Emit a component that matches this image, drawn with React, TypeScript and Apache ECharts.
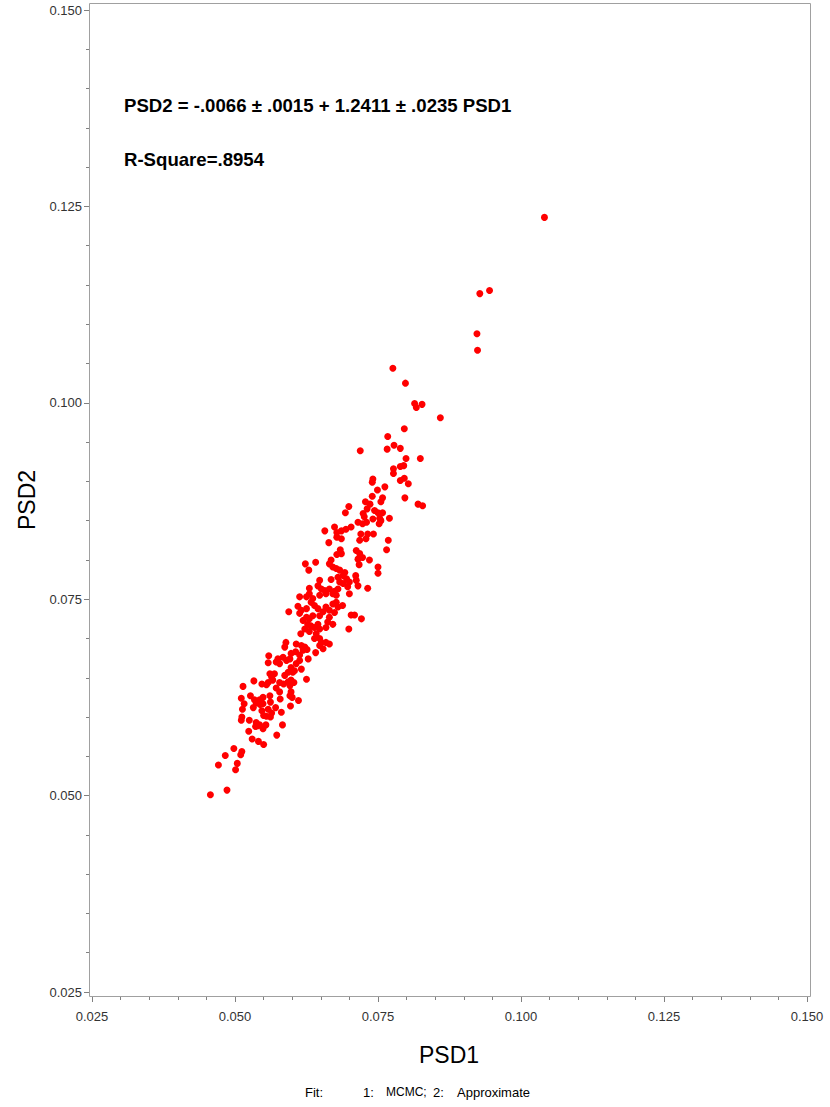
import React, { useEffect, useRef } from "react";
import * as echarts from "echarts";

const psd1: number[] = [
  0.0457, 0.0486, 0.0471, 0.0501, 0.0504, 0.0483, 0.0498, 0.0510, 0.0512, 0.0530,
  0.0541, 0.0550, 0.0524, 0.0573, 0.0511, 0.0512, 0.0513, 0.0516, 0.0511, 0.0514,
  0.0527, 0.0534, 0.0532, 0.0525, 0.0537, 0.0540, 0.0536, 0.0543, 0.0549, 0.0554,
  0.0550, 0.0547, 0.0555, 0.0562, 0.0564, 0.0558, 0.0549, 0.0544, 0.0537, 0.0543,
  0.0549, 0.0561, 0.0562, 0.0571, 0.0581, 0.0583, 0.0579, 0.0578, 0.0596, 0.0600,
  0.0598, 0.0611, 0.0597, 0.0572, 0.0555, 0.0596,
  0.0533, 0.0547, 0.0558, 0.0566, 0.0561, 0.0569, 0.0564, 0.0578, 0.0585, 0.0593,
  0.0598, 0.0603, 0.0587, 0.0593, 0.0601, 0.0625, 0.0558, 0.0572, 0.0578, 0.0575,
  0.0584, 0.0590, 0.0596, 0.0559, 0.0607, 0.0613, 0.0604, 0.0616, 0.0598, 0.0628,
  0.0587, 0.0589, 0.0607, 0.0598, 0.0606, 0.0613, 0.0619, 0.0622, 0.0626, 0.0616,
  0.0641, 0.0648, 0.0654, 0.0651, 0.0659, 0.0648, 0.0665, 0.0615, 0.0622, 0.0630,
  0.0633, 0.0627, 0.0639, 0.0642, 0.0648, 0.0645, 0.0639, 0.0659, 0.0662, 0.0671,
  0.0619, 0.0625, 0.0630, 0.0636, 0.0594, 0.0610, 0.0616, 0.0613, 0.0625, 0.0633,
  0.0639, 0.0645, 0.0648, 0.0654, 0.0659, 0.0665, 0.0665, 0.0671, 0.0677, 0.0680,
  0.0674, 0.0688, 0.0613, 0.0625, 0.0630, 0.0636, 0.0648, 0.0659, 0.0671, 0.0677,
  0.0700, 0.0703, 0.0709, 0.0721, 0.0699,
  0.0623, 0.0629, 0.0641, 0.0657, 0.0664, 0.0674, 0.0678, 0.0686, 0.0694, 0.0703,
  0.0678, 0.0686, 0.0715, 0.0723, 0.0730, 0.0726, 0.0718, 0.0720, 0.0729, 0.0732,
  0.0742, 0.0752, 0.0755, 0.0770, 0.0768, 0.0765, 0.0684, 0.0686, 0.0678, 0.0668,
  0.0665, 0.0671, 0.0677, 0.0683, 0.0712, 0.0718, 0.0715, 0.0723, 0.0735, 0.0717,
  0.0750, 0.0750, 0.0668, 0.0680, 0.0689, 0.0695, 0.0692, 0.0700, 0.0697, 0.0689,
  0.0683, 0.0711, 0.0712, 0.0715, 0.0648, 0.0645, 0.0651, 0.0657, 0.0665, 0.0674,
  0.0680, 0.0630, 0.0732,
  0.0767, 0.0719, 0.0766, 0.0778, 0.0789, 0.0799, 0.0824, 0.0777, 0.0777, 0.0789,
  0.0795, 0.0789, 0.0796, 0.0803, 0.0741, 0.0740, 0.0762, 0.0749, 0.0740, 0.0736,
  0.0728, 0.0758, 0.0755, 0.0797, 0.0820, 0.0828, 0.0699, 0.0693, 0.0724, 0.0731,
  0.0744, 0.0750, 0.0758, 0.0753, 0.0741,
  0.0776, 0.0798, 0.0814, 0.0817, 0.0827, 0.0859, 0.0796, 0.0923, 0.0924, 0.1041,
  0.0945, 0.0928,
];

const psd2: number[] = [
  0.0501, 0.0507, 0.0539, 0.0533, 0.0541, 0.0551, 0.0560, 0.0552, 0.0556, 0.0572,
  0.0569, 0.0565, 0.0582, 0.0577, 0.0596, 0.0600, 0.0610, 0.0617, 0.0624, 0.0639,
  0.0627, 0.0622, 0.0612, 0.0596, 0.0593, 0.0589, 0.0588, 0.0590, 0.0585, 0.0590,
  0.0602, 0.0608, 0.0601, 0.0600, 0.0605, 0.0610, 0.0617, 0.0616, 0.0618, 0.0622,
  0.0625, 0.0627, 0.0619, 0.0612, 0.0606, 0.0590, 0.0623, 0.0632, 0.0627, 0.0625,
  0.0632, 0.0621, 0.0614, 0.0637, 0.0641, 0.0640,
  0.0646, 0.0642, 0.0644, 0.0647, 0.0655, 0.0655, 0.0651, 0.0644, 0.0642, 0.0645,
  0.0647, 0.0644, 0.0653, 0.0657, 0.0657, 0.0648, 0.0669, 0.0670, 0.0668, 0.0674,
  0.0676, 0.0672, 0.0674, 0.0678, 0.0668, 0.0672, 0.0659, 0.0661, 0.0663, 0.0674,
  0.0689, 0.0695, 0.0693, 0.0681, 0.0683, 0.0679, 0.0685, 0.0689, 0.0686, 0.0691,
  0.0682, 0.0691, 0.0687, 0.0695, 0.0695, 0.0700, 0.0693, 0.0706, 0.0712, 0.0709,
  0.0716, 0.0718, 0.0700, 0.0706, 0.0712, 0.0718, 0.0714, 0.0714, 0.0721, 0.0718,
  0.0723, 0.0727, 0.0725, 0.0729, 0.0734, 0.0741, 0.0736, 0.0732, 0.0738, 0.0746,
  0.0742, 0.0738, 0.0729, 0.0734, 0.0740, 0.0736, 0.0727, 0.0744, 0.0746, 0.0740,
  0.0733, 0.0742, 0.0753, 0.0753, 0.0757, 0.0751, 0.0755, 0.0757, 0.0757, 0.0755,
  0.0757, 0.0730, 0.0730, 0.0725, 0.0712,
  0.0795, 0.0787, 0.0797, 0.0837, 0.0822, 0.0842, 0.0835, 0.0837, 0.0839, 0.0842,
  0.0829, 0.0827, 0.0848, 0.0846, 0.0848, 0.0855, 0.0825, 0.0833, 0.0827, 0.0833,
  0.0833, 0.0846, 0.0850, 0.0853, 0.0825, 0.0813, 0.0813, 0.0808, 0.0807, 0.0800,
  0.0795, 0.0791, 0.0789, 0.0787, 0.0812, 0.0808, 0.0801, 0.0803, 0.0800, 0.0794,
  0.0791, 0.0783, 0.0775, 0.0778, 0.0780, 0.0776, 0.0784, 0.0772, 0.0766, 0.0770,
  0.0772, 0.0780, 0.0774, 0.0767, 0.0774, 0.0767, 0.0763, 0.0761, 0.0763, 0.0760,
  0.0763, 0.0764, 0.0764,
  0.0957, 0.0939, 0.0941, 0.0946, 0.0942, 0.0929, 0.0929, 0.0916, 0.0910, 0.0919,
  0.0920, 0.0901, 0.0904, 0.0897, 0.0903, 0.0899, 0.0893, 0.0889, 0.0881, 0.0871,
  0.0874, 0.0879, 0.0874, 0.0879, 0.0871, 0.0869, 0.0868, 0.0860, 0.0859, 0.0865,
  0.0863, 0.0860, 0.0860, 0.0853, 0.0852,
  0.1044, 0.1025, 0.0999, 0.0994, 0.0998, 0.0981, 0.0967, 0.1088, 0.1067, 0.1236,
  0.1143, 0.1139,
];

const axisTicks: number[] = [0.025, 0.05, 0.075, 0.1, 0.125, 0.15];
const equationText = "PSD2 = -.0066 \u00b1 .0015 + 1.2411 \u00b1 .0235 PSD1";
const rSquareText = "R-Square=.8954";
const xTitle = "PSD1";
const yTitle = "PSD2";
const legendLabel = "Fit:";
const legendItems: string[] = ["1:", "MCMC;", "2:", "Approximate"];

const FONT = "'Liberation Sans', Arial, Helvetica, sans-serif";

export default function App() {
  const ref = useRef<HTMLDivElement>(null);
  useEffect(() => {
    if (!ref.current) return;
    const chart = echarts.init(ref.current, null, { renderer: "svg" });
    const points = psd1.map((x, i) => [x, psd2[i]]);
    const legendX = [363, 386, 433, 457];
    const axisCommon = {
      type: "value" as const,
      min: axisTicks[0],
      max: axisTicks[axisTicks.length - 1],
      interval: 0.025,
      splitLine: { show: false },
      axisLine: { show: false },
      axisTick: { show: true, length: 5, lineStyle: { color: "#808080", width: 1 } },
      minorTick: { show: true, splitNumber: 5, length: 3, lineStyle: { color: "#808080", width: 1 } },
      axisLabel: {
        color: "#333333",
        fontSize: 13,
        fontFamily: FONT,
        formatter: (v: number) => v.toFixed(3),
      },
    };
    chart.setOption({
      animation: false,
      backgroundColor: "#ffffff",
      grid: { left: 92, right: 23, top: 10, bottom: 115, containLabel: false },
      xAxis: { ...axisCommon, offset: 5, axisLabel: { ...axisCommon.axisLabel, margin: 13 } },
      yAxis: { ...axisCommon, offset: 3, axisLabel: { ...axisCommon.axisLabel, margin: 7 } },
      series: [
        {
          type: "scatter",
          data: points,
          symbol: "circle",
          symbolSize: 7,
          itemStyle: { color: "#ff0000", opacity: 1 },
          clip: false,
        },
      ],
      graphic: [
        {
          type: "rect",
          shape: { x: 89.5, y: 3.5, width: 721, height: 993 },
          style: { fill: "none", stroke: "#a0a0a0", lineWidth: 1 },
          silent: true,
          z: -1,
        },
        {
          type: "text",
          x: 124,
          y: 105,
          style: { text: equationText, fontSize: 18.6, fontWeight: "bold", fontFamily: FONT, fill: "#000", verticalAlign: "middle" },
        },
        {
          type: "text",
          x: 124,
          y: 159,
          style: { text: rSquareText, fontSize: 18.6, fontWeight: "bold", fontFamily: FONT, fill: "#000", verticalAlign: "middle" },
        },
        {
          type: "text",
          x: 449,
          y: 1055,
          style: { text: xTitle, fontSize: 23, fontFamily: FONT, fill: "#000", align: "center", verticalAlign: "middle" },
        },
        {
          type: "text",
          x: 27,
          y: 500,
          rotation: Math.PI / 2,
          style: { text: yTitle, fontSize: 23, fontFamily: FONT, fill: "#000", align: "center", verticalAlign: "middle" },
        },
        {
          type: "text",
          x: 305,
          y: 1092,
          style: { text: legendLabel, fontSize: 13, fontFamily: FONT, fill: "#000", verticalAlign: "middle" },
        },
        ...legendItems.map((t, i) => ({
          type: "text",
          x: legendX[i],
          y: 1092,
          style: { text: t, fontSize: i === 1 ? 12 : 13, fontFamily: FONT, fill: "#000", verticalAlign: "middle" },
        })),
      ],
    });
    return () => chart.dispose();
  }, []);
  return (
    <div
      ref={ref}
      style={{ position: "fixed", left: 0, top: 0, width: 830, height: 1107, background: "#fff" }}
    />
  );
}
